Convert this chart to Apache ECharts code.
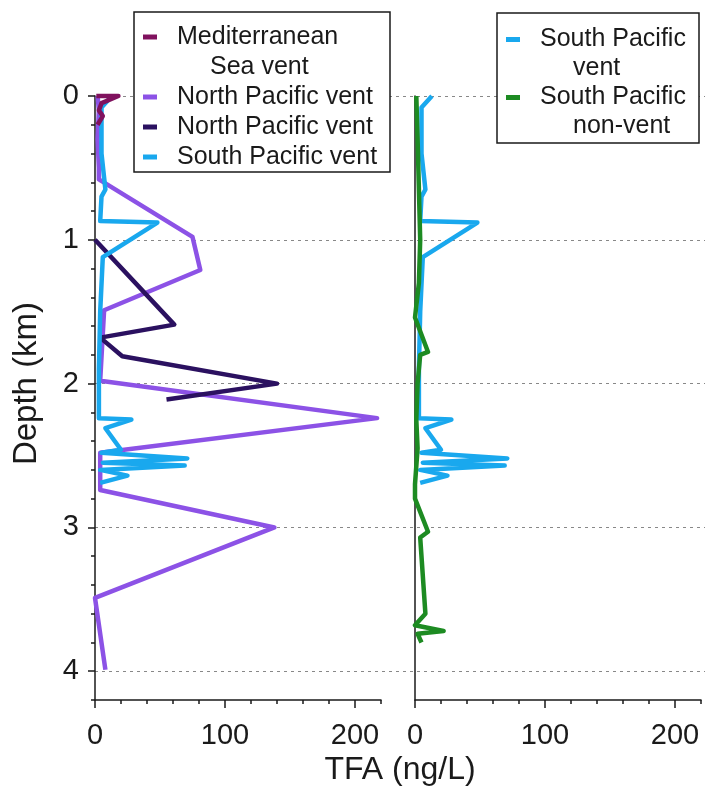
<!DOCTYPE html>
<html>
<head>
<meta charset="utf-8">
<title>TFA depth profiles</title>
<script src="https://cdn.jsdelivr.net/npm/echarts@6/dist/echarts.min.js"></script>
<style>
  html, body { margin: 0; padding: 0; background: #fff; }
  #chart { width: 705px; height: 789px; }
</style>
</head>
<body>
<div id="chart"></div>
<script>
// each point is [TFA (ng/L), depth (km)]
var medSeaVent = [[1, 0], [18, 0], [5, 0.05], [3, 0.1], [6, 0.14], [2, 0.2]];
var northPacVentA = [[2, 0], [3, 0.1], [2, 0.3], [3, 0.5], [3, 0.58], [75, 0.98], [81, 1.21],
    [7, 1.49], [4, 1.98], [217, 2.24], [4, 2.48], [4, 2.74], [138, 3.0], [0, 3.49], [8, 3.99]];
var northPacVentB = [[0, 1.0], [61, 1.59], [4, 1.68], [21, 1.81], [140, 2.0], [55, 2.11]];
var southPacVent = [[13, 0], [5, 0.08], [5, 0.4], [8, 0.65], [5, 0.7], [4, 0.87], [48, 0.88],
    [6, 1.12], [4, 1.5], [3, 1.9], [3, 2.24], [28, 2.25], [8, 2.31], [20, 2.46], [5, 2.48],
    [71, 2.52], [6, 2.55], [69, 2.57], [4, 2.6], [25, 2.64], [4, 2.69]];
var southPacNonVent = [[1, 0], [2, 0.3], [3, 0.65], [4, 1.0], [3, 1.3], [0, 1.54], [10, 1.78],
    [4, 1.8], [2, 2.0], [1, 2.25], [2, 2.45], [0, 2.7], [0, 2.8], [10, 3.03], [4, 3.07],
    [8, 3.6], [0, 3.68], [22, 3.72], [2, 3.74], [5, 3.8]];

var depthTicks = [0, 1, 2, 3, 4];
var tfaTicks = [0, 100, 200];

var ink = '#1a1a1a';
var fontFam = "'Liberation Sans', Arial, sans-serif";

// panel 0 = left, panel 1 = right
var lines = [
    {name: 'North Pacific vent (a)', data: northPacVentA, color: '#8c52e6', panel: 0, label: ['North Pacific vent']},
    {name: 'North Pacific vent (b)', data: northPacVentB, color: '#2b1160', panel: 0, label: ['North Pacific vent']},
    {name: 'South Pacific vent', data: southPacVent, color: '#19a8ee', panel: 0, label: ['South Pacific vent']},
    {name: 'Mediterranean Sea vent', data: medSeaVent, color: '#80125e', panel: 0, label: ['Mediterranean', 'Sea vent']},
    {name: 'South Pacific vent (right)', data: southPacVent, color: '#19a8ee', panel: 1, label: ['South Pacific', 'vent']},
    {name: 'South Pacific non-vent', data: southPacNonVent, color: '#1d8b22', panel: 1, label: ['South Pacific', 'non-vent']}
];

var legendSize = 25;
var rich = {
    gap: {width: 20},
    ind: {width: 67},
    tl: {width: 205, fontSize: legendSize, fontFamily: fontFam, color: ink},
    tr: {width: 151, fontSize: legendSize, fontFamily: fontFam, color: ink},
    t2: {fontSize: legendSize, fontFamily: fontFam, color: ink}
};
lines.forEach(function (l, i) {
    rich['k' + i] = {width: 14, height: 5, backgroundColor: l.color};
});

function legendFormatter(txtKey) {
    return function (name) {
        for (var i = 0; i < lines.length; i++) {
            if (lines[i].name === name) {
                var lab = lines[i].label;
                var s = '{k' + i + '|}{gap|}{' + txtKey + '|' + lab[0] + '}';
                if (lab[1]) s += '\n{ind|}{t2|' + lab[1] + '}';
                return s;
            }
        }
        return name;
    };
}

function tfaAxis(grid, major) {
    return {
        type: 'value', gridIndex: grid, position: 'bottom',
        min: 0, max: 220, interval: major ? 100 : 20,
        axisLine: {show: !major, onZero: false, lineStyle: {color: ink, width: 1.5}},
        axisTick: major
            ? {show: true, length: 8, customValues: tfaTicks, lineStyle: {color: ink, width: 1.5}}
            : {show: true, length: 4, lineStyle: {color: ink, width: 1.5}},
        axisLabel: {
            show: !major, margin: 21, fontSize: 29, color: ink, fontFamily: fontFam,
            formatter: function (v) { return tfaTicks.indexOf(v) >= 0 ? String(v) : ''; }
        },
        splitLine: {show: false}
    };
}

function depthAxis(grid, major) {
    return {
        type: 'value', gridIndex: grid, position: 'left', inverse: true,
        min: 0, max: 4.2, interval: major ? 1 : 0.2,
        axisLine: {show: !major, onZero: false, lineStyle: {color: ink, width: 1.5}},
        axisTick: major
            ? {show: true, length: 7, customValues: depthTicks, lineStyle: {color: ink, width: 1.5}}
            : {show: true, length: 4, lineStyle: {color: ink, width: 1.5}},
        axisLabel: {
            show: !major, margin: 16, fontSize: 29, color: ink, fontFamily: fontFam,
            formatter: function (v) {
                var r = Math.round(v);
                return (Math.abs(v - r) < 1e-6 && depthTicks.indexOf(r) >= 0) ? String(r) : '';
            }
        },
        splitLine: {show: false}
    };
}

var chart = echarts.init(document.getElementById('chart'));

var option = {
    backgroundColor: '#fff',
    animation: false,
    grid: [
        {left: 95, top: 96, width: 286, height: 604, outerBoundsMode: 'none'},
        {left: 415, top: 96, width: 286, height: 604, outerBoundsMode: 'none'},
        // full-width frame for the dashed depth lines and the axis titles
        {left: 95, top: 96, width: 610, height: 575, outerBoundsMode: 'none'}
    ],
    xAxis: [
        tfaAxis(0, false),
        tfaAxis(0, true),
        tfaAxis(1, false),
        tfaAxis(1, true),
        {
            type: 'value', gridIndex: 2, position: 'bottom', min: 0, max: 1,
            name: 'TFA (ng/L)', nameLocation: 'middle', nameGap: 83,
            nameTextStyle: {fontSize: 32, color: ink, fontFamily: fontFam},
            axisLine: {show: false, onZero: false}, axisTick: {show: false},
            axisLabel: {show: false}, splitLine: {show: false}
        }
    ],
    yAxis: [
        depthAxis(0, false),
        depthAxis(0, true),
        {
            type: 'value', gridIndex: 1, position: 'left', inverse: true, min: 0, max: 4.2,
            axisLine: {show: true, onZero: false, lineStyle: {color: ink, width: 1.5}},
            axisTick: {show: false}, axisLabel: {show: false}, splitLine: {show: false}
        },
        {
            type: 'value', gridIndex: 2, position: 'left', inverse: true,
            min: 0, max: 4, interval: 1,
            name: 'Depth (km)', nameLocation: 'middle', nameGap: 52,
            nameTextStyle: {fontSize: 33, color: ink, fontFamily: fontFam},
            axisLine: {show: false, onZero: false}, axisTick: {show: false}, axisLabel: {show: false},
            splitLine: {show: true, lineStyle: {color: '#888', width: 1, type: [3, 4]}}
        }
    ],
    legend: [
        {
            left: 134, top: 12, orient: 'vertical', selectedMode: false,
            itemWidth: 0, itemHeight: 0, itemGap: 0,
            padding: [10, 8, 0, 3],
            backgroundColor: '#fff', borderColor: ink, borderWidth: 1.5,
            data: ['Mediterranean Sea vent', 'North Pacific vent (a)', 'North Pacific vent (b)', 'South Pacific vent'],
            formatter: legendFormatter('tl'),
            textStyle: {lineHeight: 30, fontSize: legendSize, fontFamily: fontFam, color: ink, rich: rich}
        },
        {
            left: 497, top: 13, orient: 'vertical', selectedMode: false,
            itemWidth: 0, itemHeight: 0, itemGap: 0,
            padding: [12, 8, 2, 3],
            backgroundColor: '#fff', borderColor: ink, borderWidth: 1.5,
            data: ['South Pacific vent (right)', 'South Pacific non-vent'],
            formatter: legendFormatter('tr'),
            textStyle: {lineHeight: 29, fontSize: legendSize, fontFamily: fontFam, color: ink, rich: rich}
        }
    ],
    series: lines.map(function (l) {
        return {
            name: l.name,
            type: 'line',
            xAxisIndex: l.panel === 0 ? 0 : 2,
            yAxisIndex: l.panel === 0 ? 0 : 2,
            data: l.data,
            symbol: 'none',
            clip: false,
            color: l.color,
            lineStyle: {color: l.color, width: 4.5, join: 'round'},
            emphasis: {disabled: true}
        };
    })
};

chart.setOption(option);
</script>
</body>
</html>
